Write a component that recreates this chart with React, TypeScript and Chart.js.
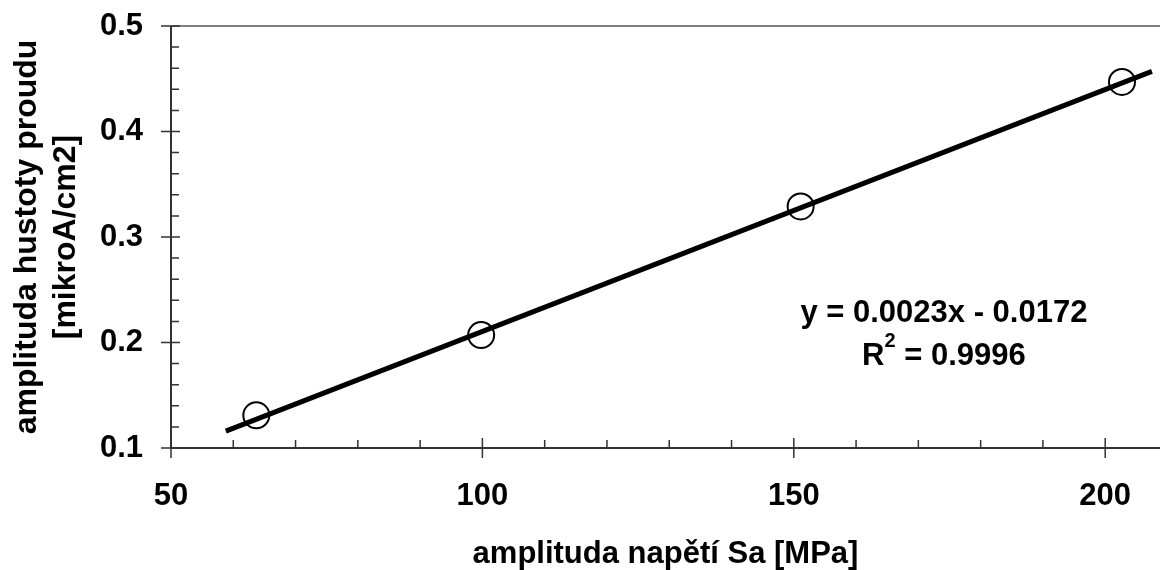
import React, { useEffect, useRef } from "react";
import { Chart, registerables } from "chart.js";

Chart.register(...registerables);

const stressAmplitude = [63.7, 99.8, 151.1, 202.7];
const currentDensity = [0.131, 0.207, 0.329, 0.447];
const trendX = [58.8, 207.5];
const trendY = [0.116, 0.457];
const xTickValues = [50, 100, 150, 200];
const yTickValues = [0.1, 0.2, 0.3, 0.4, 0.5];
const xMinorStep = 10;
const yMinorStep = 0.02;
const equationLine1 = "y = 0.0023x - 0.0172";
const r2Parts = ["R", "2", " = 0.9996"];
const equationAnchor = { x: 174.1, y: [0.2199, 0.1787] };

const FONT = "'Liberation Sans', Arial, sans-serif";
const FS = 31;

const axesPlugin = {
  id: "excelAxes",
  beforeDatasetsDraw(chart: any) {
    const { ctx, chartArea, scales } = chart;
    const xs = scales.x;
    const ys = scales.y;
    ctx.save();
    ctx.strokeStyle = "#808080";
    ctx.lineWidth = 2;
    ctx.beginPath();
    const yTop = ys.getPixelForValue(ys.max);
    ctx.moveTo(chartArea.left, yTop);
    ctx.lineTo(chartArea.right, yTop);
    ctx.stroke();

    ctx.strokeStyle = "#333333";
    ctx.lineWidth = 2;
    const left = chartArea.left;
    const bottom = chartArea.bottom;
    ctx.beginPath();
    ctx.moveTo(left, chartArea.top);
    ctx.lineTo(left, bottom);
    ctx.moveTo(left, bottom);
    ctx.lineTo(chartArea.right, bottom);
    ctx.stroke();

    ctx.lineWidth = 1.5;
    ctx.beginPath();
    for (const v of yTickValues) {
      const p = ys.getPixelForValue(v);
      ctx.moveTo(left - 10, p);
      ctx.lineTo(left + 9, p);
    }
    for (let v = ys.min; v < ys.max - 1e-9; v += yMinorStep) {
      const isMajor = yTickValues.some((t) => Math.abs(t - v) < 1e-6);
      if (isMajor) continue;
      const p = ys.getPixelForValue(v);
      ctx.moveTo(left, p);
      ctx.lineTo(left + 8, p);
    }
    for (const v of xTickValues) {
      const p = xs.getPixelForValue(v);
      ctx.moveTo(p, bottom - 10);
      ctx.lineTo(p, bottom + 10);
    }
    for (let v = xs.min; v <= xs.max; v += xMinorStep) {
      const isMajor = xTickValues.some((t) => Math.abs(t - v) < 1e-6);
      if (isMajor) continue;
      const p = xs.getPixelForValue(v);
      ctx.moveTo(p, bottom - 8);
      ctx.lineTo(p, bottom);
    }
    ctx.stroke();
    ctx.restore();
  },
  afterDatasetsDraw(chart: any) {
    const { ctx, scales } = chart;
    ctx.save();
    ctx.fillStyle = "#000";
    ctx.textBaseline = "alphabetic";
    const cx = scales.x.getPixelForValue(equationAnchor.x);
    const big = `bold ${FS}px ${FONT}`;
    const small = `bold 20px ${FONT}`;
    ctx.font = big;
    ctx.textAlign = "center";
    ctx.fillText(equationLine1, cx, scales.y.getPixelForValue(equationAnchor.y[0]));
    ctx.textAlign = "left";
    const y2 = scales.y.getPixelForValue(equationAnchor.y[1]);
    ctx.font = big;
    const w0 = ctx.measureText(r2Parts[0]).width;
    const w2 = ctx.measureText(r2Parts[2]).width;
    ctx.font = small;
    const w1 = ctx.measureText(r2Parts[1]).width;
    let x = cx - (w0 + w1 + w2) / 2;
    ctx.font = big;
    ctx.fillText(r2Parts[0], x, y2);
    x += w0;
    ctx.font = small;
    ctx.fillText(r2Parts[1], x, y2 - 18);
    x += w1;
    ctx.font = big;
    ctx.fillText(r2Parts[2], x, y2);
    ctx.restore();
  },
};

export default function App() {
  const ref = useRef<HTMLCanvasElement>(null);
  useEffect(() => {
    if (!ref.current) return;
    const tickFont = { family: FONT, size: FS, weight: "bold" as const };
    const chart = new Chart(ref.current, {
      type: "scatter",
      data: {
        datasets: [
          {
            label: "data",
            data: stressAmplitude.map((x, i) => ({ x, y: currentDensity[i] })),
            pointStyle: "circle",
            pointRadius: 13,
            pointBorderWidth: 2,
            pointBorderColor: "#000",
            pointBackgroundColor: "rgba(0,0,0,0)",
            showLine: false,
            clip: false,
          } as any,
          {
            type: "line",
            label: "trend",
            data: trendX.map((x, i) => ({ x, y: trendY[i] })),
            borderColor: "#000",
            borderWidth: 5,
            pointRadius: 0,
            fill: false,
            clip: false,
          } as any,
        ],
      },
      options: {
        animation: false,
        responsive: true,
        maintainAspectRatio: false,
        layout: { autoPadding: false, padding: { top: 26, right: 0, left: 0, bottom: 0 } },
        plugins: { legend: { display: false }, tooltip: { enabled: false } },
        scales: {
          x: {
            type: "linear",
            min: 50,
            max: 208.8,
            afterBuildTicks: (s: any) => {
              s.ticks = xTickValues.map((v) => ({ value: v }));
            },
            afterFit: (s: any) => {
              s.height = 122;
              s.paddingLeft = 0;
              s.paddingRight = 0;
              s.paddingTop = 0;
              s.paddingBottom = 0;
            },
            grid: { display: true, drawOnChartArea: false, drawTicks: false, color: "rgba(0,0,0,0)" },
            border: { display: false },
            ticks: { font: tickFont, color: "#000", padding: 30, maxRotation: 0, autoSkip: false },
            title: {
              display: true,
              text: "amplituda napětí Sa [MPa]",
              font: { family: FONT, size: FS, weight: "bold", lineHeight: 1 },
              color: "#000",
              padding: { top: 0, bottom: 0 },
            },
          },
          y: {
            type: "linear",
            min: 0.1,
            max: 0.5,
            afterBuildTicks: (s: any) => {
              s.ticks = yTickValues.map((v) => ({ value: v }));
            },
            afterFit: (s: any) => {
              s.width = 171;
              s.paddingLeft = 0;
              s.paddingRight = 0;
              s.paddingTop = 0;
              s.paddingBottom = 0;
            },
            grid: { display: true, drawOnChartArea: false, drawTicks: false, color: "rgba(0,0,0,0)" },
            border: { display: false },
            ticks: {
              font: tickFont,
              color: "#000",
              padding: 28,
              callback: (v: any) => Number(v).toFixed(1),
            },
            title: {
              display: true,
              text: ["amplituda hustoty proudu", "[mikroA/cm2]"],
              font: { family: FONT, size: 32, weight: "bold", lineHeight: 1.22 },
              color: "#000",
              padding: { top: 8, bottom: 0 },
            },
          },
        },
      },
      plugins: [axesPlugin],
    });
    return () => chart.destroy();
  }, []);
  return (
    <div style={{ position: "fixed", left: 0, top: 0, width: 1160, height: 570, background: "#fff" }}>
      <canvas ref={ref} />
    </div>
  );
}
